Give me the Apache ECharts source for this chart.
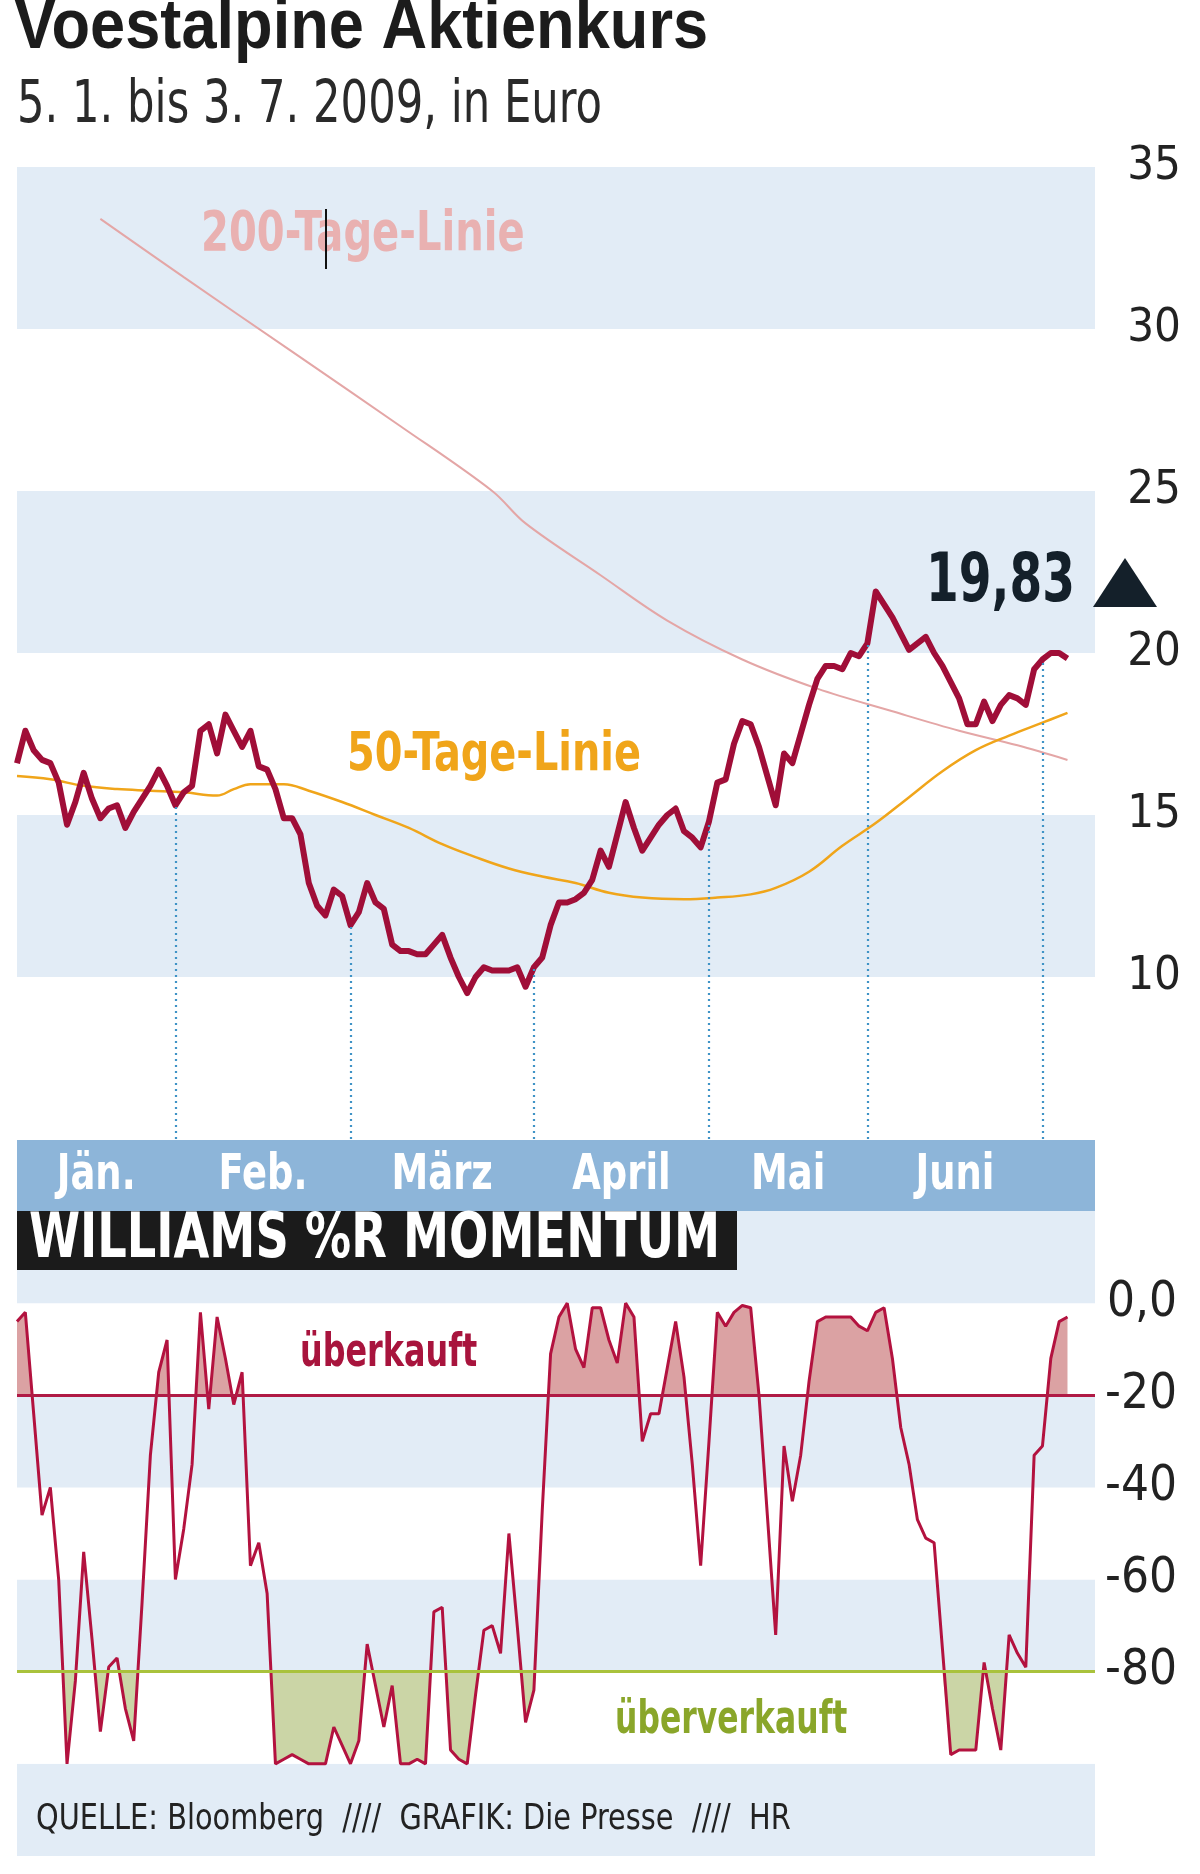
<!DOCTYPE html>
<html><head><meta charset="utf-8">
<script src="https://cdn.jsdelivr.net/npm/echarts@6/dist/echarts.min.js"></script>
<style>html,body{margin:0;padding:0;background:#fff}#c{width:1200px;height:1874px}</style>
</head><body><div id="c"></div>
<script>
// ---------- data ----------
const months = ['Jän.', 'Feb.', 'März', 'April', 'Mai', 'Juni'];
const monthEnds = [19, 40, 62, 83, 102, 123];          // trading-day index of month boundaries
const price = [
  16.6,17.6,17.0,16.7,16.6,16.0,14.7,15.4,16.3,15.5,
  14.9,15.2,15.3,14.6,15.1,15.5,15.9,16.4,15.9,15.3,
  15.7,15.9,17.6,17.8,16.9,18.1,17.6,17.1,17.6,16.5,
  16.4,15.8,14.9,14.9,14.4,12.9,12.2,11.9,12.7,12.5,
  11.6,12.0,12.9,12.3,12.1,11.0,10.8,10.8,10.7,10.7,
  11.0,11.3,10.6,10.0,9.5,10.0,10.3,10.2,10.2,10.2,
  10.3,9.7,10.3,10.6,11.6,12.3,12.3,12.4,12.6,13.0,
  13.9,13.4,14.4,15.4,14.6,13.9,14.3,14.7,15.0,15.2,
  14.5,14.3,14.0,14.8,16.0,16.1,17.2,17.9,17.8,17.1,
  16.2,15.3,16.9,16.6,17.5,18.4,19.2,19.6,19.6,19.5,
  20.0,19.9,20.3,21.9,21.5,21.1,20.6,20.1,20.3,20.5,
  20.0,19.6,19.1,18.6,17.8,17.8,18.5,17.9,18.4,18.7,
  18.6,18.4,19.5,19.8,20.0,20.0,19.83
];
const ma50Days = [0,4,8,12,16,20,24,26,28,32,35,39,43,47,51,55,59,63,67,71,75,80,84,88,91,95,99,103,107,111,115,119,123,126];
const ma50 = [16.2,16.1,15.9,15.8,15.75,15.7,15.6,15.8,15.95,15.95,15.75,15.4,15.0,14.6,14.1,13.7,13.35,13.1,12.9,12.6,12.45,12.4,12.45,12.55,12.75,13.25,14.05,14.75,15.55,16.35,17.0,17.45,17.85,18.15];
const ma200Days = [10,20,33,46,57,61,70,78,87,96,105,113,120,126];
const ma200 = [33.4,31.6,29.3,27.0,25.0,24.0,22.4,21.0,19.8,18.9,18.2,17.6,17.15,16.7];
const wpr = [
  -4,-2,-24,-46,-40,-60,-100,-82,-54,-73,
  -93,-79,-77,-88,-95,-65,-33,-15,-8,-60,
  -49,-35,-2,-23,-3,-12,-22,-15,-57,-52,
  -63,-100,-99,-98,-99,-100,-100,-100,-92,-96,
  -100,-95,-74,-83,-92,-83,-100,-100,-99,-100,
  -67,-66,-97,-99,-100,-85,-71,-70,-76,-50,
  -70,-91,-84,-45,-11,-3,0,-10,-14,-1,
  -1,-8,-13,0,-3,-30,-24,-24,-14,-4,
  -16,-35,-57,-30,-2,-5,-2,-0.5,-1,-20,
  -46,-72,-31,-43,-33,-17,-4,-3,-3,-3,
  -3,-5,-6,-2,-1,-12,-27,-35,-47,-51,
  -52,-75,-98,-97,-97,-97,-78,-88,-97,-72,
  -76,-79,-33,-31,-12,-4,-3
];
const priceTicks = [10, 15, 20, 25, 30, 35];
const wprTicks = [0, -20, -40, -60, -80];
const wprTickLabels = ['0,0', '-20', '-40', '-60', '-80'];
const overbought = -20;
const oversold = -80;

// ---------- helpers ----------
const NARROW = "'Liberation Sans Narrow','DejaVu Sans Condensed',sans-serif";
const BLUE = '#e2ecf6';
const pairs = (xs, ys) => xs.map((x, i) => [x, ys[i]]);
const idx = arr => arr.map((v, i) => [i, v]);
const bounds = [0].concat(monthEnds);
const monthMid = months.map((m, k) => (bounds[k] + bounds[k + 1]) / 2);
function fillData(vals, thr, above) {
  const out = [];
  for (let i = 0; i < vals.length; i++) {
    const v = vals[i];
    if (i > 0) {
      const p = vals[i - 1];
      const sp = above ? p > thr : p < thr, sv = above ? v > thr : v < thr;
      if (sp !== sv && p !== v) { const t = (thr - p) / (v - p); out.push([i - 1 + t, thr]); }
    }
    out.push([i, above ? Math.max(v, thr) : Math.min(v, thr)]);
  }
  return out;
}
const last = price[price.length - 1];
function txt(x, y, text, font, fill, sx, extra) {
  return Object.assign({type: 'text', z: 51, x: x, y: y, scaleX: sx, silent: true,
    style: Object.assign({text: text, font: font, fill: fill, verticalAlign: 'middle'}, extra || {})});
}

const chart = echarts.init(document.getElementById('c'), null, {renderer: 'canvas'});
chart.setOption({
  animation: false,
  backgroundColor: '#ffffff',
  grid: [
    {left: 17, right: 105, top: 167, height: 972},
    {left: 17, right: 105, top: 1211, height: 645}
  ],
  xAxis: [
    {gridIndex: 0, type: 'value', min: 0, max: 129.3,
     axisLine: {show: false}, axisTick: {show: false}, splitLine: {show: false}, axisLabel: {show: false}},
    {gridIndex: 1, type: 'value', min: 0, max: 129.3,
     axisLine: {show: false}, axisTick: {show: false}, splitLine: {show: false}, axisLabel: {show: false}}
  ],
  yAxis: [
    {gridIndex: 0, type: 'value', position: 'right', min: 5, max: 35, interval: 5,
     axisLine: {show: false}, axisTick: {show: false}, splitLine: {show: false},
     splitArea: {show: true, areaStyle: {color: ['#ffffff', BLUE]}},
     axisLabel: {customValues: priceTicks, align: 'right', margin: 86, padding: [9, 0, 0, 0],
       color: '#222', fontFamily: NARROW, fontSize: 47}},
    {gridIndex: 1, type: 'value', position: 'right', min: -120, max: 20, interval: 20,
     axisLine: {show: false}, axisTick: {show: false}, splitLine: {show: false},
     splitArea: {show: true, areaStyle: {color: [BLUE, '#ffffff']}},
     axisLabel: {customValues: wprTicks, formatter: v => wprTickLabels[wprTicks.indexOf(v)] || '',
       align: 'right', margin: 82, color: '#222', fontFamily: NARROW, fontSize: 49}}
  ],
  series: [
    {type: 'line', name: '200-Tage-Linie', xAxisIndex: 0, yAxisIndex: 0, data: pairs(ma200Days, ma200),
     smooth: 0.35, symbol: 'none', lineStyle: {color: '#e4a6a6', width: 2}, silent: true,
     markLine: {silent: true, symbol: ['none', 'none'], label: {show: false},
       lineStyle: {color: '#3f93c6', width: 2.2, type: [2, 4]},
       data: monthEnds.map(i => [{coord: [i, 5]}, {coord: [i, price[i]]}])}},
    {type: 'line', name: '50-Tage-Linie', xAxisIndex: 0, yAxisIndex: 0, data: pairs(ma50Days, ma50),
     smooth: 0.4, symbol: 'none', lineStyle: {color: '#f0a51a', width: 2.5}, silent: true},
    {type: 'line', name: 'Kurs', xAxisIndex: 0, yAxisIndex: 0, data: idx(price),
     symbol: 'none', lineStyle: {color: '#a00e38', width: 6, join: 'round'}, silent: true},
    {type: 'custom', name: 'Monate', xAxisIndex: 0, yAxisIndex: 0, z: 30, silent: true, clip: false,
     data: monthMid.map((m, k) => [m, k]),
     renderItem: (params, api) => {
       const p = api.coord([api.value(0), 5]);
       return {type: 'text', x: p[0], y: p[1] + 37, scaleX: 0.82,
         style: {text: months[api.value(1)], fill: '#ffffff', font: 'bold 50px ' + NARROW, align: 'center', verticalAlign: 'middle'}};
     }},
    {type: 'line', name: 'überkauft', xAxisIndex: 1, yAxisIndex: 1, data: fillData(wpr, overbought, true),
     symbol: 'none', lineStyle: {width: 0, opacity: 0}, silent: true,
     areaStyle: {origin: overbought, color: '#dba2a3', opacity: 1}},
    {type: 'line', name: 'überverkauft', xAxisIndex: 1, yAxisIndex: 1, data: fillData(wpr, oversold, false),
     symbol: 'none', lineStyle: {width: 0, opacity: 0}, silent: true,
     areaStyle: {origin: oversold, color: '#cbd5a6', opacity: 1}},
    {type: 'line', name: 'Williams %R', xAxisIndex: 1, yAxisIndex: 1, data: idx(wpr),
     symbol: 'none', lineStyle: {color: '#b3123f', width: 3}, silent: true,
     markLine: {silent: true, symbol: ['none', 'none'], label: {show: false},
       data: [
         {yAxis: overbought, lineStyle: {color: '#b01a45', width: 3, type: 'solid'}},
         {yAxis: oversold, lineStyle: {color: '#a9c23c', width: 3, type: 'solid'}}
       ]}}
  ],
  graphic: [
    {type: 'rect', z: 5, shape: {x: 17, y: 1140, width: 1078, height: 71}, style: {fill: '#8db5d9'}, silent: true},
    {type: 'rect', z: 50, shape: {x: 17, y: 1211, width: 720, height: 59}, style: {fill: '#1b1b1b'}, silent: true},
    txt(14, 28, 'Voestalpine Aktienkurs', "bold 71px 'Liberation Sans',Arial,sans-serif", '#1c1c1c', 0.89),
    txt(17, 107, '5. 1. bis 3. 7. 2009, in Euro', '58px ' + NARROW, '#2a2a2a', 0.83),
    txt(29, 1241, 'WILLIAMS %R MOMENTUM', 'bold 62px ' + NARROW, '#ffffff', 0.83),
    txt(201, 236, '200-Tage-Linie', 'bold 55px ' + NARROW, '#e9b1b1', 0.81),
    {type: 'rect', z: 52, shape: {x: 325, y: 209, width: 2, height: 60}, style: {fill: '#111'}, silent: true},
    txt(347, 756, '50-Tage-Linie', 'bold 54px ' + NARROW, '#f0a51a', 0.82),
    txt(1075, 583, last.toFixed(2).replace('.', ','), 'bold 68px ' + NARROW, '#14202a', 0.77, {align: 'right'}),
    {type: 'polygon', z: 51, shape: {points: [[1125, 558], [1157, 607], [1093, 607]]}, style: {fill: '#14202a'}, silent: true},
    txt(300, 1354, 'überkauft', 'bold 46px ' + NARROW, '#a8143d', 0.77),
    txt(615, 1721, 'überverkauft', 'bold 46px ' + NARROW, '#8aa62a', 0.76),
    txt(36, 1820, 'QUELLE: Bloomberg  ////  GRAFIK: Die Presse  ////  HR', '36px ' + NARROW, '#222', 0.89)
  ]
});
</script>
</body></html>
